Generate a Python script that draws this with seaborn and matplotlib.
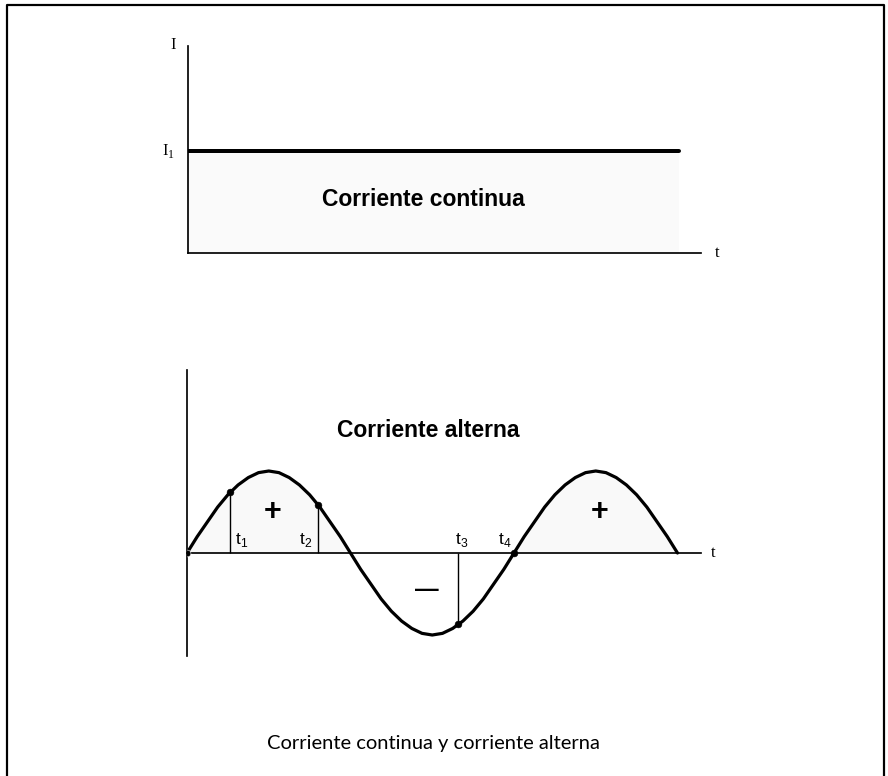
import numpy as np
import seaborn as sns
import matplotlib.pyplot as plt
from matplotlib.lines import Line2D

# direct current: constant level I1 over 1.5 periods
dc_time = [0.0, 1.5]
dc_level = [1.0, 1.0]

# alternating current, every 1/32 period (amplitude = 1)
ac_value = [
    0.00, 0.20, 0.38, 0.56, 0.71, 0.83, 0.92, 0.98, 1.00, 0.98, 0.92, 0.83,
    0.71, 0.56, 0.38, 0.20, 0.00, -0.20, -0.38, -0.56, -0.71, -0.83, -0.92,
    -0.98, -1.00, -0.98, -0.92, -0.83, -0.71, -0.56, -0.38, -0.20, 0.00,
    0.20, 0.38, 0.56, 0.71, 0.83, 0.92, 0.98, 1.00, 0.98, 0.92, 0.83, 0.71,
    0.56, 0.38, 0.20, 0.00,
]
ac_time = np.linspace(0, 1.5, len(ac_value))

# marked instants (in periods) and the current at each
mark_labels = ["t1", "t2", "t3", "t4"]
mark_time = [0.13, 0.40, 0.83, 1.00]
mark_value = [0.74, 0.59, -0.87, 0.00]
mark_drop = [True, True, True, False]  # vertical line down/up to the axis
label_shift = [12, -12, 3, -9]  # px, label beside the line

W, H = 888, 776
fig = plt.figure(figsize=(W / 100, H / 100), dpi=100)
sns.set_style("white")
plt.rcParams["text.color"] = "black"

PX = 72 / 100  # points per pixel


def px_axes(x0, x1, ytop, ybot):
    return fig.add_axes([x0 / W, 1 - ybot / H, (x1 - x0) / W, (ybot - ytop) / H])


def clean(ax):
    for s in ["top", "right"]:
        ax.spines[s].set_visible(False)
    for s in ["left", "bottom"]:
        ax.spines[s].set_color("black")
        ax.spines[s].set_linewidth(1.7 * PX)
    ax.set_xticks([])
    ax.set_yticks([])
    ax.set(xlabel="", ylabel="")
    ax.patch.set_alpha(0)


serif = "Liberation Serif"
sans = "Liberation Sans"

# ---- top: corriente continua ----
ax1 = px_axes(188, 701, 46, 253)
ax1.set_xlim(0, 513 / 327)
ax1.set_ylim(0, 207 / 102)
ax1.fill_between(dc_time, 0, dc_level, color="#fafafa", lw=0)
sns.lineplot(x=dc_time, y=dc_level, ax=ax1, color="black", linewidth=4 * PX)
clean(ax1)
ax1.text(-15 / 513, 1.005, "I", transform=ax1.transAxes, family=serif,
         fontsize=12, ha="center", va="center", color="black")
ax1.text(-20 / 513, 1.0, r"I$_\mathregular{1}$", transform=ax1.get_yaxis_transform(),
         family=serif, fontsize=12, ha="center", va="center", color="black")
ax1.text(529 / 513, 0, "t", transform=ax1.transAxes, family=serif,
         fontsize=12, ha="center", va="center", color="black")
ax1.text(0.72, 0.52, "Corriente continua", family=sans, fontweight="bold",
         fontsize=16.5, ha="center", va="center", color="black")

# ---- bottom: corriente alterna ----
ax2 = px_axes(187, 701, 370, 656)
ax2.set_xlim(0, 514 / 327)
ax2.set_ylim(-103 / 82, 183 / 82)
pos = np.clip(ac_value, 0, None)
ax2.fill_between(ac_time, 0, pos, color="#f9f9f9", lw=0)
sns.lineplot(x=ac_time, y=ac_value, ax=ax2, color="black", linewidth=3.2 * PX)
clean(ax2)
ax2.spines["bottom"].set_position(("data", 0))

for lab, t, v, drop, dx in zip(mark_labels, mark_time, mark_value,
                               mark_drop, label_shift):
    if drop:
        ax2.vlines(t, min(0, v), max(0, v), color="black", linewidth=1.4 * PX)
    ax2.annotate(r"t$_\mathregular{%s}$" % lab[1], xy=(t, 0),
                 xytext=(dx * PX, 13 * PX), textcoords="offset points",
                 family=sans, fontsize=12.5, ha="center", va="center",
                 color="black")
sns.scatterplot(x=mark_time, y=mark_value, ax=ax2, color="black", s=24,
                edgecolor="black", zorder=5)
sns.scatterplot(x=[0.0], y=[0.0], ax=ax2, color="black", s=24, zorder=5)
ax2.set(xlabel="", ylabel="")

ax2.text(526 / 514, 0, "t", transform=ax2.get_yaxis_transform(), family=serif,
         fontsize=12, ha="center", va="center", color="black")
ax2.text(0.737, 1.49, "Corriente alterna", family=sans, fontweight="bold",
         fontsize=16.5, ha="center", va="center", color="black")
for x in [0.263, 1.263]:
    ax2.text(x, 0.50, "+", family=sans, fontweight="bold", fontsize=22,
             ha="center", va="center", color="black")
ax2.text(0.734, -0.45, "\u2014", family=sans, fontweight="bold", fontsize=17,
         ha="center", va="center", color="black")

# caption and outer frame
fig.text(433 / W, 1 - 743 / H, "Corriente continua y corriente alterna",
         family="Lato", fontsize=14.5, ha="center", va="center", color="black")
fx = [7 / W, 7 / W, 884 / W, 884 / W]
fy = [-0.01, 1 - 5 / H, 1 - 5 / H, -0.01]
fig.add_artist(Line2D(fx, fy, color="black", linewidth=2.2 * PX,
                      transform=fig.transFigure))

fig.savefig("out.png", dpi=100)
